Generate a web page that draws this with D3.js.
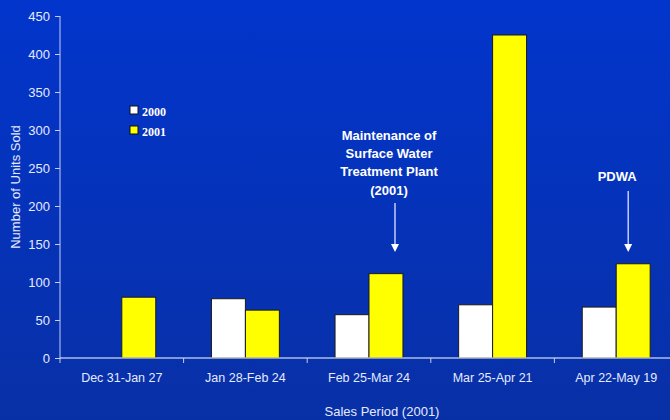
<!DOCTYPE html>
<html>
<head>
<meta charset="utf-8">
<script src="https://cdn.jsdelivr.net/npm/d3@7"></script>
<style>
  html, body { margin: 0; padding: 0; background: #0433c4; }
  svg { display: block; }
</style>
</head>
<body>
<svg id="chart" width="670" height="420"></svg>
<script>
// Units sold per four-week sales period
const periods = ["Dec 31-Jan 27", "Jan 28-Feb 24", "Feb 25-Mar 24", "Mar 25-Apr 21", "Apr 22-May 19"];
const seriesNames = ["2000", "2001"];
const sales2000 = [null, 78, 57, 70, 67];
const sales2001 = [80, 63, 111, 425, 124];
const yTicks = [0, 50, 100, 150, 200, 250, 300, 350, 400, 450];
const maintenanceNote = ["Maintenance of", "Surface Water", "Treatment Plant", "(2001)"];
const pdwaNote = ["PDWA"];

const W = 670, H = 420;
const svg = d3.select("#chart");
const textColor = "#e6eaff";

// background gradient
const defs = svg.append("defs");
const grad = defs.append("linearGradient").attr("id", "bg").attr("x1", 0).attr("y1", 0).attr("x2", 0).attr("y2", 1);
grad.append("stop").attr("offset", "0%").attr("stop-color", "#0235cc");
grad.append("stop").attr("offset", "100%").attr("stop-color", "#0830a6");
svg.append("rect").attr("width", W).attr("height", H).attr("fill", "url(#bg)");

const x0 = d3.scaleBand().domain(periods).range([60, 678]).paddingInner(0).paddingOuter(0);
const x1 = d3.scaleBand().domain(seriesNames).range([0, x0.bandwidth()]).paddingInner(0).paddingOuter(0.82);
const y = d3.scaleLinear().domain([0, 450]).range([358, 16]);

const colors = { "2000": "#ffffff", "2001": "#ffff00" };

// bars
const rows = periods.map((p, i) => ({ period: p, values: [
  { key: "2000", value: sales2000[i] },
  { key: "2001", value: sales2001[i] }
]}));

const groups = svg.append("g").selectAll("g").data(rows).join("g")
  .attr("transform", d => `translate(${x0(d.period)},0)`);
groups.selectAll("rect").data(d => d.values.filter(v => v.value != null)).join("rect")
  .attr("x", d => x1(d.key))
  .attr("y", d => y(d.value))
  .attr("width", x1.bandwidth())
  .attr("height", d => y(0) - y(d.value))
  .attr("fill", d => colors[d.key])
  .attr("stroke", "#1a1a1a")
  .attr("stroke-width", 1);

// y axis
const yAxis = svg.append("g").attr("transform", "translate(60,0)")
  .call(d3.axisLeft(y).tickValues(yTicks).tickSize(5).tickPadding(5));
yAxis.select(".domain").attr("stroke", "#c4cdf2").attr("d", `M0,${y(450)}V363`);
yAxis.selectAll(".tick line").attr("stroke", "#c4cdf2");
yAxis.selectAll(".tick text").attr("fill", textColor)
  .style("font-family", "'Liberation Sans', Arial, sans-serif").style("font-size", "13px");

// x axis
const xAxis = svg.append("g").attr("transform", `translate(0,${y(0)})`)
  .call(d3.axisBottom(x0).tickSize(0).tickPadding(15));
xAxis.select(".domain").remove();
xAxis.selectAll(".tick text").attr("fill", textColor)
  .style("font-family", "'Liberation Sans', Arial, sans-serif").style("font-size", "12.5px");
svg.append("line").attr("x1", 60).attr("x2", W).attr("y1", y(0)).attr("y2", y(0))
  .attr("stroke", "#ffffff").attr("stroke-width", 1.2);
// category separators
svg.append("g").selectAll("line").data(periods.slice(1)).join("line")
  .attr("x1", d => x0(d)).attr("x2", d => x0(d))
  .attr("y1", y(0)).attr("y2", y(0) + 5)
  .attr("stroke", "#c4cdf2");

// axis titles
svg.append("text").attr("transform", `translate(20,${(y(0) + y(450)) / 2}) rotate(-90)`)
  .attr("text-anchor", "middle")
  .attr("fill", textColor)
  .style("font-family", "'Liberation Sans', Arial, sans-serif").style("font-size", "13px")
  .text("Number of Units Sold");
svg.append("text").attr("x", 382).attr("y", 416)
  .attr("text-anchor", "middle")
  .attr("fill", textColor)
  .style("font-family", "'Liberation Sans', Arial, sans-serif").style("font-size", "13px")
  .text("Sales Period (2001)");

// legend
const legend = svg.append("g").attr("transform", "translate(130,106)");
seriesNames.forEach((s, i) => {
  const g = legend.append("g").attr("transform", `translate(0,${i * 20})`);
  g.append("rect").attr("width", 8).attr("height", 8).attr("fill", colors[s])
    .attr("stroke", "#111").attr("stroke-width", 1);
  g.append("text").attr("x", 12).attr("y", 9.5)
    .attr("fill", "#ffffff")
    .style("font-family", "'Liberation Serif', 'Times New Roman', serif")
    .style("font-size", "12px").style("font-weight", "bold")
    .text(s);
});

// annotations with arrows
function annotate(lines, textX, firstBaseline, arrowX, fromY, toY) {
  const t = svg.append("text").attr("text-anchor", "middle").attr("fill", "#ffffff")
    .style("font-family", "'Liberation Sans', Arial, sans-serif")
    .style("font-size", "13px").style("font-weight", "bold");
  lines.forEach((l, i) => t.append("tspan").attr("x", textX).attr("y", firstBaseline + i * 18.4).text(l));
  svg.append("line").attr("x1", arrowX).attr("x2", arrowX).attr("y1", fromY).attr("y2", toY - 7)
    .attr("stroke", "#dfe5ff").attr("stroke-width", 1.3);
  svg.append("path").attr("d", `M${arrowX - 4},${toY - 8}L${arrowX + 4},${toY - 8}L${arrowX},${toY}Z`)
    .attr("fill", "#ffffff");
}
const c3 = x0(periods[2]) + x1("2001");
annotate(maintenanceNote, c3 + 20, 139.5, c3 + 26, 203, 252);
const c5 = x0(periods[4]) + x1("2001");
annotate(pdwaNote, c5 + 1, 180.5, c5 + 12, 191, 252);
</script>
</body>
</html>
